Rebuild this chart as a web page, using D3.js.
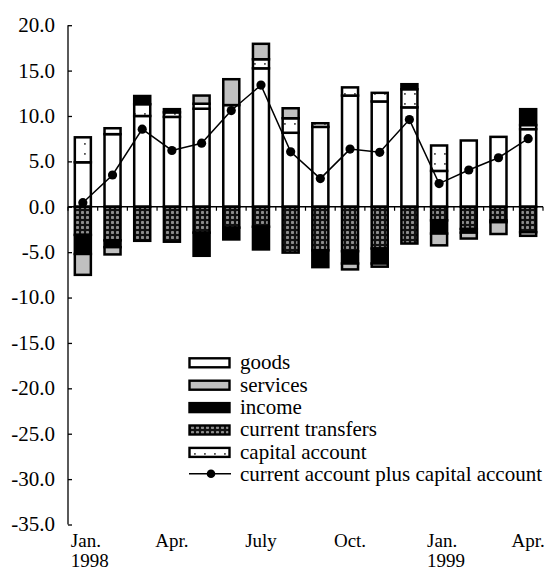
<!DOCTYPE html>
<html><head><meta charset="utf-8">
<script src="https://cdn.jsdelivr.net/npm/d3@7"></script>
<style>
html,body{margin:0;padding:0;background:#fff;}
text{font-family:"Liberation Serif","Times New Roman",serif;font-size:21px;fill:#000;}
text.xl{font-size:19px;}
</style></head>
<body><svg id="c" width="550" height="571"></svg>
<script>
const months = ["Jan98","Feb98","Mar98","Apr98","May98","Jun98","Jul98","Aug98","Sep98","Oct98","Nov98","Dec98","Jan99","Feb99","Mar99","Apr99"];
const goods     = [4.9, 8.0, 10.0, 9.9, 10.8, 11.2, 15.25, 8.15, 8.8, 12.25, 11.6, 10.95, 3.95, 7.3, 7.7, 8.55];
const capital   = [2.75, 0.65, 1.3, 0.5, 0.55, 0, 1.0, 1.6, 0.4, 0.9, 0.95, 2.0, 2.8, 0, 0, 0.45];
const services  = [-2.3, -0.8, 0, 0, 0.9, 2.85, 1.7, 1.1, 0, -0.65, -0.35, 0, -1.3, -0.65, -1.3, -0.4];
const income    = [-2.1, -0.75, 0.9, 0.35, -2.55, -1.3, -2.5, 0, -1.85, -1.35, -1.65, 0.55, -1.45, -0.4, -0.2, 1.75];
const transfers = [-3.1, -3.7, -3.75, -3.85, -2.85, -2.3, -2.2, -5.05, -4.8, -4.9, -4.6, -4.05, -1.5, -2.45, -1.5, -2.8];
const totalLine = [0.45, 3.5, 8.55, 6.2, 7.0, 10.6, 13.4, 6.05, 3.1, 6.35, 6.0, 9.6, 2.55, 4.05, 5.4, 7.5];
const yTicks = [20, 15, 10, 5, 0, -5, -10, -15, -20, -25, -30, -35];
const xLabels = [{m:"Jan98", t:["Jan.","1998"]},{m:"Apr98", t:["Apr."]},{m:"Jul98", t:["July"]},{m:"Oct98", t:["Oct."]},{m:"Jan99", t:["Jan.","1999"]},{m:"Apr99", t:["Apr."]}];
const legendItems = [
  {key:"goods", label:"goods"},
  {key:"services", label:"services"},
  {key:"income", label:"income"},
  {key:"transfers", label:"current transfers"},
  {key:"capital", label:"capital account"},
  {key:"line", label:"current account plus capital account"}
];

const svg = d3.select("#c");
const defs = svg.append("defs");
// current transfers pattern: black with grey dots
const pt = defs.append("pattern").attr("id","pTrans").attr("patternUnits","userSpaceOnUse").attr("width",5).attr("height",5);
pt.append("rect").attr("width",5).attr("height",5).attr("fill","#111");
pt.append("rect").attr("x",1).attr("y",1).attr("width",3).attr("height",3).attr("rx",0.8).attr("fill","#8c8c8c");
// capital account pattern: white with sparse dots
const pc = defs.append("pattern").attr("id","pCap").attr("patternUnits","userSpaceOnUse").attr("width",10).attr("height",10);
pc.append("rect").attr("width",10).attr("height",10).attr("fill","#fff");
pc.append("rect").attr("x",4).attr("y",3).attr("width",1.8).attr("height",1.8).attr("fill","#555");

const fills = {goods:"#fff", services:"#c0c0c0", income:"#000", transfers:"url(#pTrans)", capital:"url(#pCap)"};

const x = d3.scaleBand().domain(months).range([68, 543]).paddingInner(0.46).paddingOuter(0.23);
const step = x.step();
const y = d3.scaleLinear().domain([-35, 20]).range([524.5, 25.2]);

const rows = months.map((m,i)=>({m, goods:goods[i], capital:capital[i], transfers:transfers[i], income:income[i], services:services[i]}));
const keys = ["goods","capital","transfers","income","services"];
const stack = d3.stack().keys(keys).offset(d3.stackOffsetDiverging);
const series = stack(rows);

// axes
const gy = svg.append("g").attr("transform","translate(68,0)")
  .call(d3.axisRight(y).tickValues(yTicks).tickSize(4).tickFormat(""));
gy.select(".domain").attr("stroke","#000").attr("stroke-width",1.3).attr("d","M0,25.2V524.5");
gy.selectAll(".tick line").attr("stroke","#000").attr("stroke-width",1.3);
svg.append("g").selectAll("text").data(yTicks).join("text")
  .attr("x",55).attr("y",d=>y(d)).attr("dy","0.33em").attr("text-anchor","end")
  .text(d=>d.toFixed(1));

const bounds = months.map(m=>x(m)-step*0.23).concat([543]);
const gx = svg.append("g");
gx.append("line").attr("x1",68).attr("x2",543).attr("y1",y(0)).attr("y2",y(0)).attr("stroke","#000").attr("stroke-width",1.3);
gx.selectAll("line.t").data(bounds).join("line").attr("class","t")
  .attr("x1",d=>d).attr("x2",d=>d).attr("y1",y(0)).attr("y2",y(0)+4).attr("stroke","#000").attr("stroke-width",1.2);

// bars
svg.append("g").selectAll("g").data(series).join("g")
  .attr("fill",d=>fills[d.key])
  .selectAll("rect").data(d=>d.filter(s=>Math.abs(s[1]-s[0])>1e-9)).join("rect")
  .attr("x",d=>x(d.data.m)).attr("width",x.bandwidth())
  .attr("y",d=>y(Math.max(d[0],d[1]))).attr("height",d=>Math.abs(y(d[0])-y(d[1])))
  .attr("stroke","#000").attr("stroke-width",2.5);

// line
const cx = m=>x(m)+x.bandwidth()/2;
svg.append("path").datum(totalLine).attr("fill","none").attr("stroke","#000").attr("stroke-width",1.5)
  .attr("d",d3.line().x((d,i)=>cx(months[i])).y(d=>y(d)));
svg.append("g").selectAll("circle").data(totalLine).join("circle")
  .attr("cx",(d,i)=>cx(months[i])).attr("cy",d=>y(d)).attr("r",4.6).attr("fill","#000");

// x labels
const xl = svg.append("g");
xLabels.forEach(l=>{
  const two = l.t.length > 1;
  const lx = two ? cx(l.m) - 12 : cx(l.m);
  l.t.forEach((s,j)=>{
    xl.append("text").attr("class","xl").attr("x",lx).attr("y",547+j*20)
      .attr("text-anchor", two ? "start" : "middle").text(s);
  });
});

// legend
const lg = svg.append("g");
legendItems.forEach((it,i)=>{
  const cy = 362.8 + i*22.4;
  if(it.key==="line"){
    lg.append("line").attr("x1",189).attr("x2",231).attr("y1",cy-1).attr("y2",cy-1).attr("stroke","#000").attr("stroke-width",1.5);
    lg.append("circle").attr("cx",211).attr("cy",cy-1).attr("r",4.3).attr("fill","#000");
  } else {
    lg.append("rect").attr("x",189.5).attr("y",cy-4.5).attr("width",40).attr("height",9)
      .attr("fill",fills[it.key]).attr("stroke","#000").attr("stroke-width",2.4);
  }
  lg.append("text").attr("x",240).attr("y",cy).attr("dy","0.3em").text(it.label);
});
</script></body></html>
